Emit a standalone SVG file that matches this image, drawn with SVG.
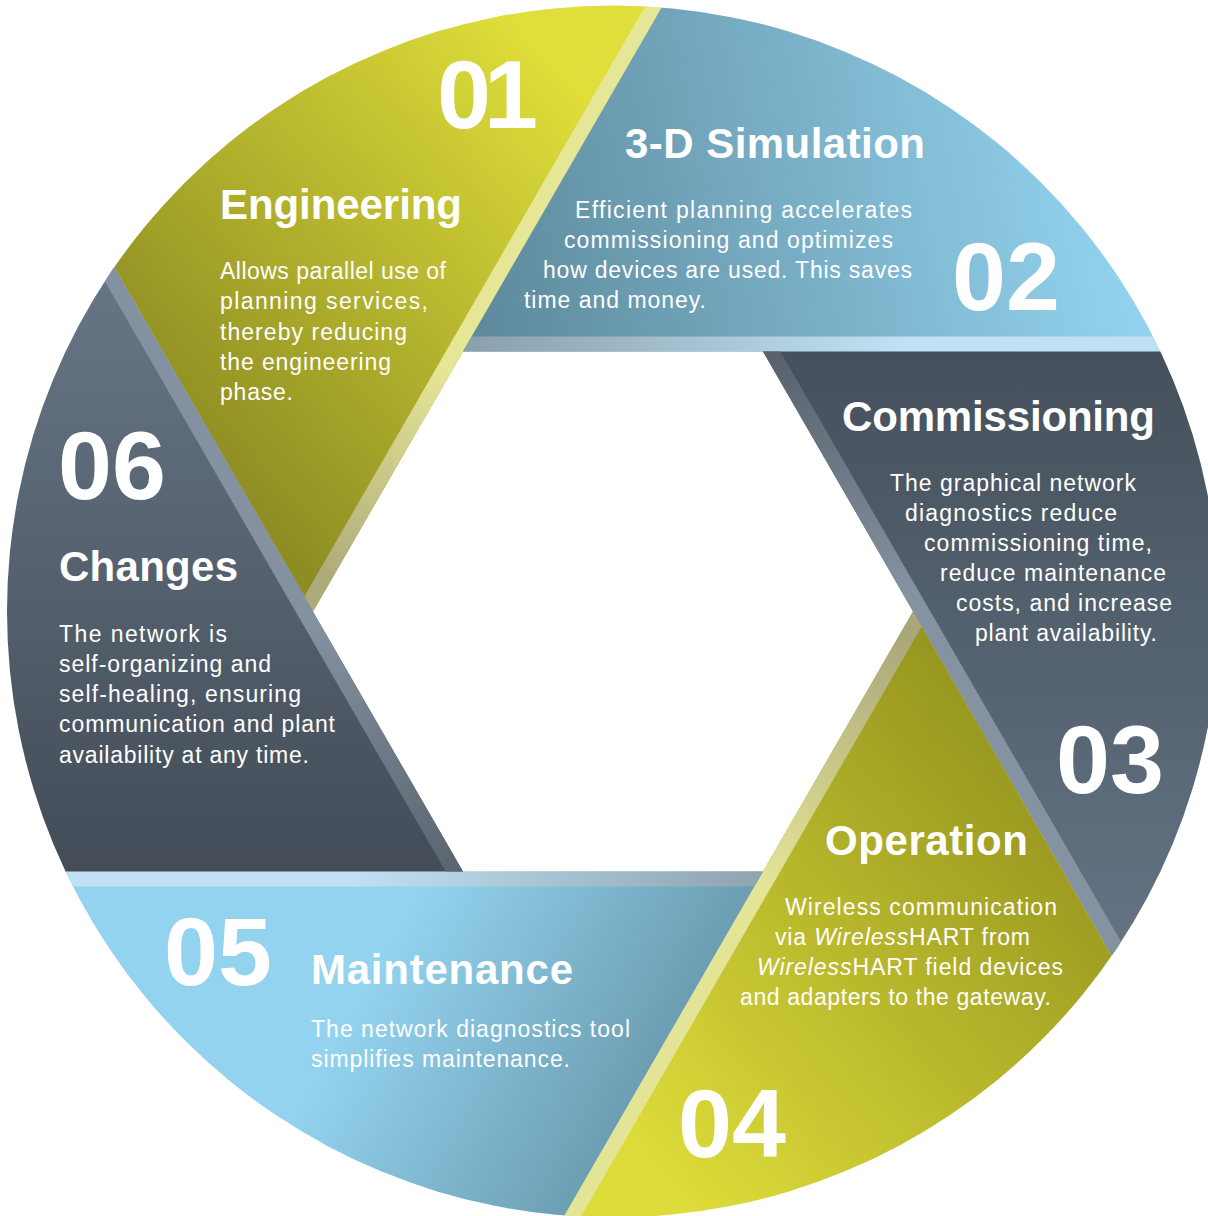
<svg xmlns="http://www.w3.org/2000/svg" width="1208" height="1216" viewBox="0 0 1208 1216">
<style>
.num{font-family:"Liberation Sans",Arial,sans-serif;font-weight:bold;font-size:97px;fill:#fff}
.title{font-family:"Liberation Sans",Arial,sans-serif;font-weight:bold;font-size:42px;fill:#fff}
.desc{font-family:"Liberation Sans",Arial,sans-serif;font-size:23px;fill:#fff}
.it{font-style:italic}
</style>
<defs>
<clipPath id="disk"><circle cx="613" cy="611.5" r="606"/></clipPath>
<linearGradient id="g01" gradientUnits="userSpaceOnUse" x1="560" y1="70" x2="170" y2="420"><stop offset="0" stop-color="#dfde3a"/><stop offset="1" stop-color="#8e8d23"/></linearGradient>
<linearGradient id="g02" gradientUnits="userSpaceOnUse" x1="480" y1="300" x2="1120" y2="180"><stop offset="0" stop-color="#5e8a9c"/><stop offset="1" stop-color="#93d3ef"/></linearGradient>
<linearGradient id="g03" gradientUnits="userSpaceOnUse" x1="0" y1="351" x2="0" y2="960"><stop offset="0" stop-color="#45505b"/><stop offset="1" stop-color="#647484"/></linearGradient>
<linearGradient id="g04" gradientUnits="userSpaceOnUse" x1="640" y1="1150" x2="1060" y2="780"><stop offset="0" stop-color="#dddc3a"/><stop offset="1" stop-color="#96951f"/></linearGradient>
<linearGradient id="g05" gradientUnits="userSpaceOnUse" x1="380" y1="960" x2="740" y2="1160"><stop offset="0" stop-color="#93d3ef"/><stop offset="1" stop-color="#5c8899"/></linearGradient>
<linearGradient id="g06" gradientUnits="userSpaceOnUse" x1="0" y1="270" x2="0" y2="872"><stop offset="0" stop-color="#677686"/><stop offset="1" stop-color="#434c57"/></linearGradient>
<linearGradient id="s01" gradientUnits="userSpaceOnUse" x1="330" y1="580" x2="450" y2="370"><stop offset="0" stop-color="#aeab7b"/><stop offset="1" stop-color="#e6e697"/></linearGradient>
<linearGradient id="s02" gradientUnits="userSpaceOnUse" x1="463" y1="0" x2="900" y2="0"><stop offset="0" stop-color="#8a9fac"/><stop offset="1" stop-color="#bfe1f3"/></linearGradient>
<linearGradient id="s03" gradientUnits="userSpaceOnUse" x1="770" y1="360" x2="900" y2="600"><stop offset="0" stop-color="#58626e"/><stop offset="1" stop-color="#8592a1"/></linearGradient>
<linearGradient id="s04" gradientUnits="userSpaceOnUse" x1="900" y1="630" x2="760" y2="880"><stop offset="0" stop-color="#a9a779"/><stop offset="1" stop-color="#e4e497"/></linearGradient>
<linearGradient id="s05" gradientUnits="userSpaceOnUse" x1="350" y1="0" x2="763" y2="0"><stop offset="0" stop-color="#bfe1f3"/><stop offset="1" stop-color="#8ea4b1"/></linearGradient>
<linearGradient id="s06" gradientUnits="userSpaceOnUse" x1="320" y1="620" x2="455" y2="860"><stop offset="0" stop-color="#8491a0"/><stop offset="1" stop-color="#5c6672"/></linearGradient>
</defs>

<g id="segment-01" clip-path="url(#disk)">
<polygon points="313,611.5 -487,-774.1 1113,-774.1" fill="url(#g01)"/>
<polygon points="313,611.5 1113,-774.1 1100.01,-781.6 304.34,596.5" fill="url(#s01)"/>
<text class="num" x="437" y="128" letter-spacing="-7">01</text>
<text class="title" x="220" y="219" textLength="242">Engineering</text>
<text class="desc" x="220" y="279" textLength="226">Allows parallel use of</text>
<text class="desc" x="220" y="309" textLength="208">planning services,</text>
<text class="desc" x="220" y="340" textLength="187">thereby reducing</text>
<text class="desc" x="220" y="370" textLength="171">the engineering</text>
<text class="desc" x="220" y="400" textLength="73">phase.</text>
</g>

<g id="segment-02" clip-path="url(#disk)">
<polygon points="463,351.5 1263,-1034.1 2063,351.5" fill="url(#g02)"/>
<polygon points="463,351.5 2063,351.5 2063,336.5 471.66,336.5" fill="url(#s02)"/>
<text class="title" x="625" y="158" textLength="300">3-D Simulation</text>
<text class="desc" x="575" y="218" textLength="337">Efficient planning accelerates</text>
<text class="desc" x="564" y="248" textLength="329">commissioning and optimizes</text>
<text class="desc" x="543" y="278" textLength="369">how devices are used. This saves</text>
<text class="desc" x="524" y="308" textLength="182">time and money.</text>
<text class="num" x="952" y="310">02</text>
</g>

<g id="segment-03" clip-path="url(#disk)">
<polygon points="763,351.5 2363,351.5 1563,1737.1" fill="url(#g03)"/>
<polygon points="763,351.5 1563,1737.1 1575.99,1729.6 780.32,351.5" fill="url(#s03)"/>
<text class="title" x="842" y="431" textLength="313">Commissioning</text>
<text class="desc" x="890" y="491" textLength="246">The graphical network</text>
<text class="desc" x="905" y="521" textLength="212">diagnostics reduce</text>
<text class="desc" x="924" y="551" textLength="228">commissioning time,</text>
<text class="desc" x="940" y="581" textLength="226">reduce maintenance</text>
<text class="desc" x="956" y="611" textLength="216">costs, and increase</text>
<text class="desc" x="975" y="641" textLength="182">plant availability.</text>
<text class="num" x="1056" y="793">03</text>
</g>

<g id="segment-04" clip-path="url(#disk)">
<polygon points="913,611.5 1713,1997.1 113,1997.1" fill="url(#g04)"/>
<polygon points="913,611.5 113,1997.1 125.99,2004.6 921.66,626.5" fill="url(#s04)"/>
<text class="title" x="825" y="855" textLength="203">Operation</text>
<text class="desc" x="785" y="915" textLength="272">Wireless communication</text>
<text class="desc" x="775" y="945" textLength="255">via <tspan class="it">Wireless</tspan>HART from</text>
<text class="desc" x="757" y="975" textLength="306"><tspan class="it">Wireless</tspan>HART field devices</text>
<text class="desc" x="740" y="1005" textLength="311">and adapters to the gateway.</text>
<text class="num" x="678" y="1157">04</text>
</g>

<g id="segment-05" clip-path="url(#disk)">
<polygon points="763,871.5 -37,2257.1 -837,871.5" fill="url(#g05)"/>
<polygon points="763,871.5 -837,871.5 -837,886.5 754.34,886.5" fill="url(#s05)"/>
<text class="num" x="164" y="985">05</text>
<text class="title" x="311" y="984" textLength="262">Maintenance</text>
<text class="desc" x="311" y="1037" textLength="319">The network diagnostics tool</text>
<text class="desc" x="311" y="1067" textLength="259">simplifies maintenance.</text>
</g>

<g id="segment-06" clip-path="url(#disk)">
<polygon points="463,871.5 -1137,871.5 -337,-514.1" fill="url(#g06)"/>
<polygon points="463,871.5 -337,-514.1 -349.99,-506.6 445.68,871.5" fill="url(#s06)"/>
<text class="num" x="58" y="499">06</text>
<text class="title" x="59" y="581" textLength="179">Changes</text>
<text class="desc" x="59" y="642" textLength="168">The network is</text>
<text class="desc" x="59" y="672" textLength="212">self-organizing and</text>
<text class="desc" x="59" y="702" textLength="242">self-healing, ensuring</text>
<text class="desc" x="59" y="732" textLength="276">communication and plant</text>
<text class="desc" x="59" y="763" textLength="250">availability at any time.</text>
</g>
</svg>
